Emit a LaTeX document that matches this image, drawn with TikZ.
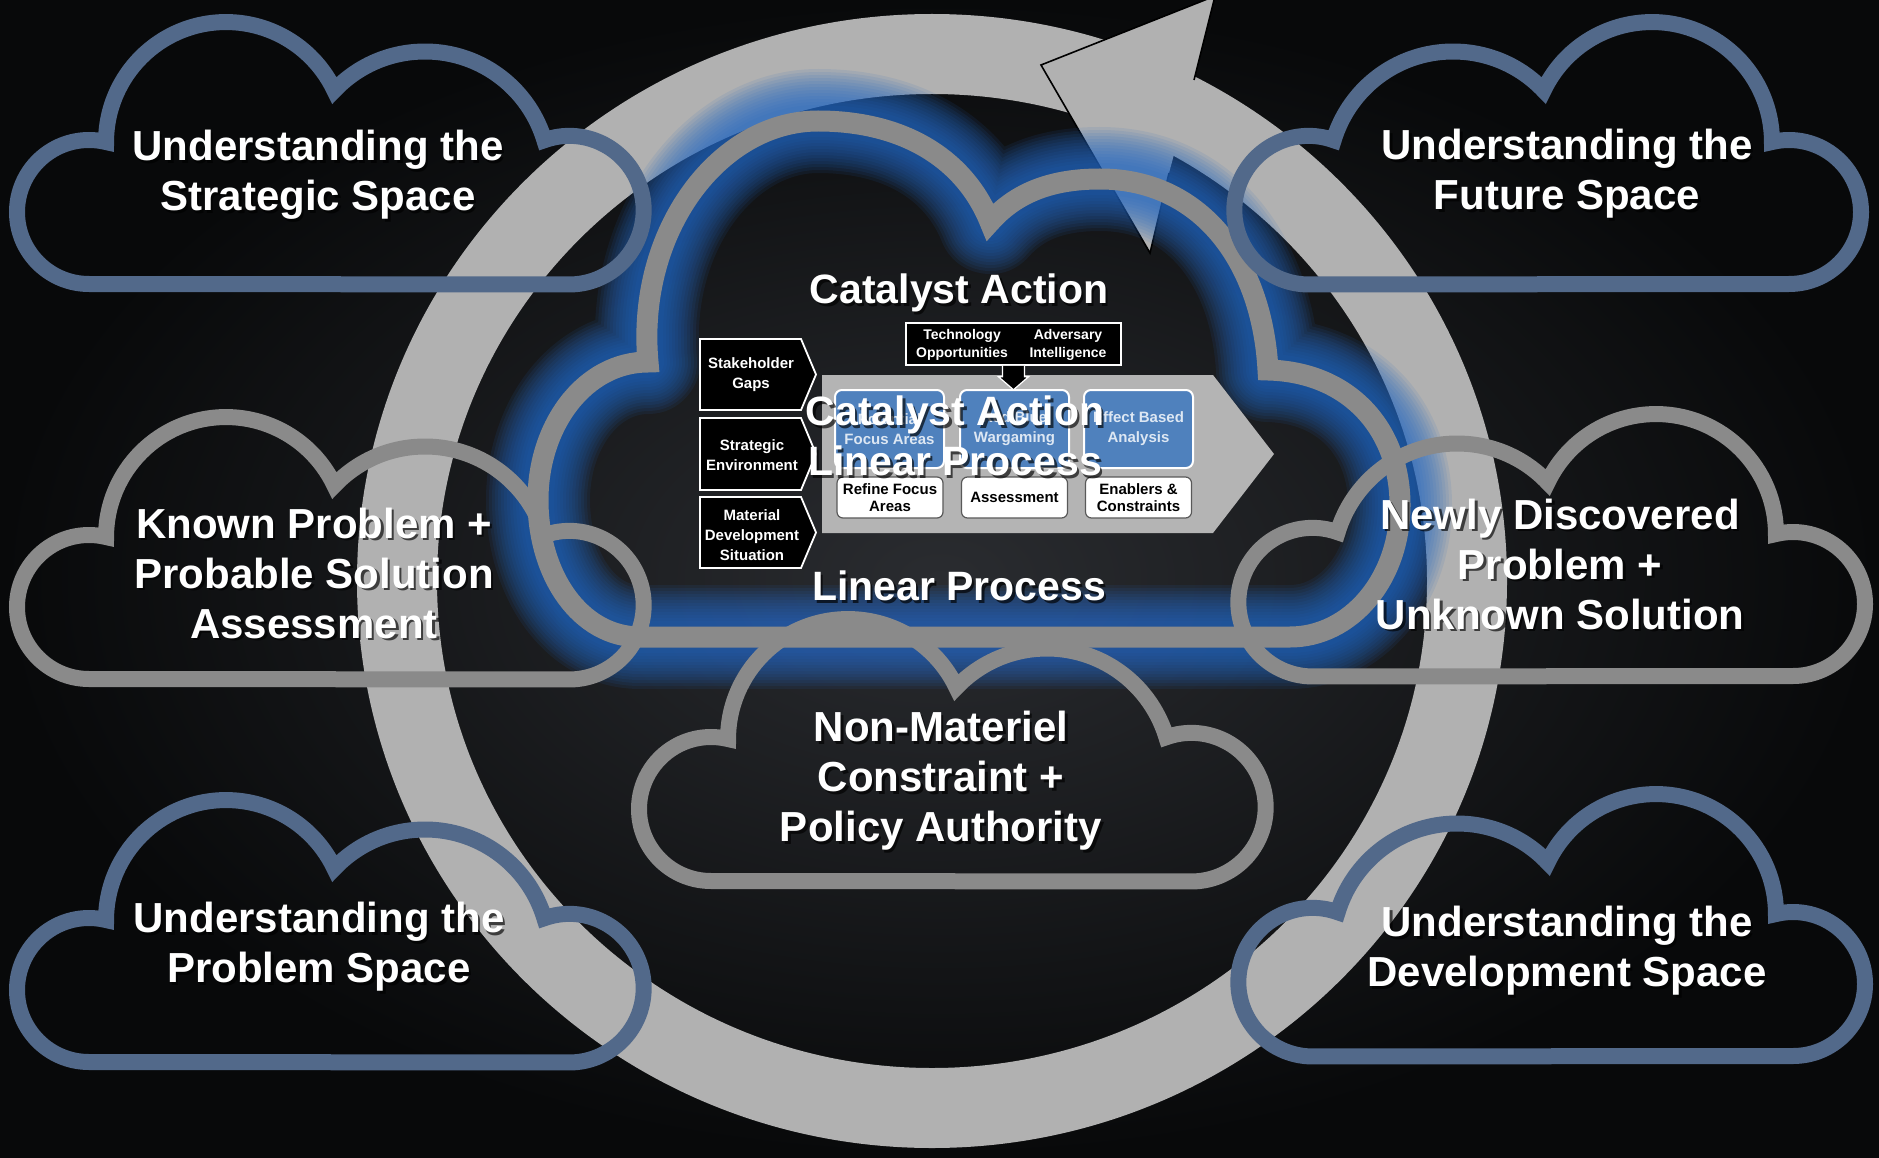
\documentclass[tikz,border=0pt]{standalone}
\usepackage{fontspec}
\setmainfont{Liberation Sans}
\usetikzlibrary{calc}
\definecolor{ringgray}{HTML}{B1B1B1}
\definecolor{cloudgray}{HTML}{8A8A8A}
\definecolor{cloudblue}{HTML}{52698A}
\definecolor{glowblue}{HTML}{2468C4}
\definecolor{boxblue}{HTML}{4F81BD}
\definecolor{chevgray}{HTML}{B4B4B4}
\definecolor{bgin}{HTML}{2A2C30}
\definecolor{bgout}{HTML}{08090A}
\definecolor{bluetext}{HTML}{DDE7F3}

\def\cloudshape{(89,284) arc[start angle=90,end angle=283.7,radius=72]
  arc[start angle=180,end angle=334.5,radius=120]
  arc[start angle=223.5,end angle=343.2,radius=124.8]
  arc[start angle=250.3,end angle=450,radius=74.3] -- cycle}

\def\bigcloud{(640,637) .. controls (580,637) and (538,575) .. (538,500)
  .. controls (538,425) and (585,362) .. (648,362)
  .. controls (636,230) and (720,121) .. (818,121)
  .. controls (905,121) and (965,160) .. (990,222)
  .. controls (1020,188) and (1060,179) .. (1100,179)
  .. controls (1200,179) and (1262,260) .. (1268,370)
  .. controls (1350,372) and (1400,430) .. (1400,505)
  .. controls (1400,580) and (1350,637) .. (1290,637) -- cycle}

\newcommand\shtext[5]{%
  \node[#4, text=black, text opacity=0.65] (#1-sh) at ($(#2,#3)+(2.5,2.5)$) {#5};
  \node[#4] (#1) at (#2,#3) {#5};}

\begin{document}
\begin{tikzpicture}[x=1pt,y=-1pt,
  bigtxt/.style={text=white, font=\fontsize{42}{50}\selectfont\bfseries, align=center, inner sep=0pt},
  titletxt/.style={bigtxt, font=\fontsize{41}{50}\selectfont\bfseries},
  smalltxt/.style={font=\fontsize{15}{20}\selectfont\bfseries, align=center, inner sep=0pt},
  tinytxt/.style={font=\fontsize{14}{18}\selectfont\bfseries, align=center, inner sep=0pt, text=white},
  bluebox/.style={smalltxt, draw=white, line width=2pt, fill=boxblue, rounded corners=7pt,
     minimum width=109pt, minimum height=78pt, text=bluetext},
  whitebox/.style={smalltxt, font=\fontsize{15}{17}\selectfont\bfseries, draw=black!65, line width=1.2pt,
     fill=white, rounded corners=6pt, minimum width=106pt, minimum height=41pt, text=black},
  graycloud/.style={draw=cloudgray, line width=16pt, miter limit=3},
  bluecloud/.style={draw=cloudblue, line width=16pt, miter limit=3},
  pentagon/.style={fill=black, draw=white, line width=1.8pt}]

\useasboundingbox (0,0) rectangle (1879,1158);
% background
\shade[inner color=bgin, outer color=bgout] (0,0) rectangle (1879,1158);

% big ring
\fill[ringgray, even odd rule] (932,581) ellipse[x radius=575, y radius=567]
                               (932,581) ellipse[x radius=495, y radius=487];
% arrow head
\coordinate (tip) at (1041,65);
\coordinate (ob) at (1215,-4);
\coordinate (oj) at (1194,80);
\coordinate (ij) at (1169,173);
\coordinate (ib) at (1150,253);
\fill[ringgray] (tip) -- (ob) -- (oj) -- (ij) -- (ib) -- cycle;
\draw[black, line width=1.6pt] (oj) -- (ob) -- (tip) -- (ib) -- (ij);

% central cloud glow and outline
\foreach \w in {104,98,...,32}
  \draw[glowblue, line width=\w pt, opacity=0.1, line join=round] \bigcloud;
\draw[cloudgray, line width=21pt, miter limit=3] \bigcloud;

% process chevron
\fill[chevgray] (822,375) -- (1213,375) -- (1274,454) -- (1213,533) -- (822,533) -- cycle;

% pentagons
\draw[pentagon] (700,339) -- (801,339) -- (816,374.5) -- (801,410) -- (700,410) -- cycle;
\draw[pentagon] (700,418) -- (801,418) -- (816,454) -- (801,490) -- (700,490) -- cycle;
\draw[pentagon] (700,497) -- (801,497) -- (816,532.5) -- (801,568) -- (700,568) -- cycle;
\node[smalltxt, text=white] (sg) at (751,375) {Stakeholder\\Gaps};
\node[smalltxt, text=white] (se) at (752,455) {Strategic\\Environment};
\node[smalltxt, text=white] (md) at (752,535) {Material\\Development\\Situation};

% top box and arrow
\node[fill=black, draw=white, line width=1.5pt, minimum width=215pt, minimum height=42pt, inner sep=0pt] (tb) at (1013.5,344) {};
\node[tinytxt] (tech) at (962,345) {Technology\\Opportunities};
\node[tinytxt] (adv) at (1068,345) {Adversary\\Intelligence};
\draw[fill=black, draw=white, line width=1.2pt]
  ($(tb.south)+(-11,0)$) -- ($(tb.south)+(-11,11)$) -- ($(tb.south)+(-15,11)$)
  -- ($(tb.south)+(0,24)$) -- ($(tb.south)+(15,11)$) -- ($(tb.south)+(11,11)$) -- ($(tb.south)+(11,0)$);

% blue boxes
\node[bluebox] (pfa) at (889.5,429) {Potential\\Focus Areas};
\node[bluebox] (rbw) at (1014.5,429) {Red/Blue\\Wargaming};
\node[bluebox] (eba) at (1138.5,429) {Effect Based\\Analysis};
% white boxes
\node[whitebox] (rfa) at (890,497.5) {Refine Focus\\Areas};
\node[whitebox] (ass) at (1014.5,497.5) {Assessment};
\node[whitebox] (enc) at (1138.5,497.5) {Enablers \&\\Constraints};

% small clouds
\draw[bluecloud] \cloudshape;
\begin{scope}[shift={(0,395)}] \draw[graycloud] \cloudshape; \end{scope}
\begin{scope}[shift={(0,778)}] \draw[bluecloud] \cloudshape; \end{scope}
\begin{scope}[shift={(622,597)}] \draw[graycloud] \cloudshape; \end{scope}
\begin{scope}[shift={(1878,0)}, xscale=-1] \draw[bluecloud] \cloudshape; \end{scope}
\begin{scope}[shift={(1882,392)}, xscale=-1] \draw[graycloud] \cloudshape; \end{scope}
\begin{scope}[shift={(1882,772)}, xscale=-1] \draw[bluecloud] \cloudshape; \end{scope}

% texts
\shtext{tl}{318}{175}{bigtxt}{Understanding the\\Strategic Space}
\shtext{tr}{1567}{174}{bigtxt}{Understanding the\\Future Space}
\shtext{kp}{314}{573}{bigtxt}{Known Problem +\\Probable Solution\\Assessment}
\shtext{nd}{1560}{564}{bigtxt}{Newly Discovered\\Problem +\\Unknown Solution}
\shtext{nm}{941}{781}{bigtxt}{Non-Materiel\\Constraint +\\Policy Authority}
\shtext{ps}{319}{947}{bigtxt}{Understanding the\\Problem Space}
\shtext{ds}{1567}{951}{bigtxt}{Understanding the\\Development Space}

\shtext{ca}{959}{293}{titletxt}{Catalyst Action}
\shtext{lp}{959}{586}{titletxt}{Linear Process}
\shtext{cb}{955}{415}{titletxt}{Catalyst Action}
\shtext{lb}{955}{461}{titletxt}{Linear Process}
\end{tikzpicture}
\end{document}
